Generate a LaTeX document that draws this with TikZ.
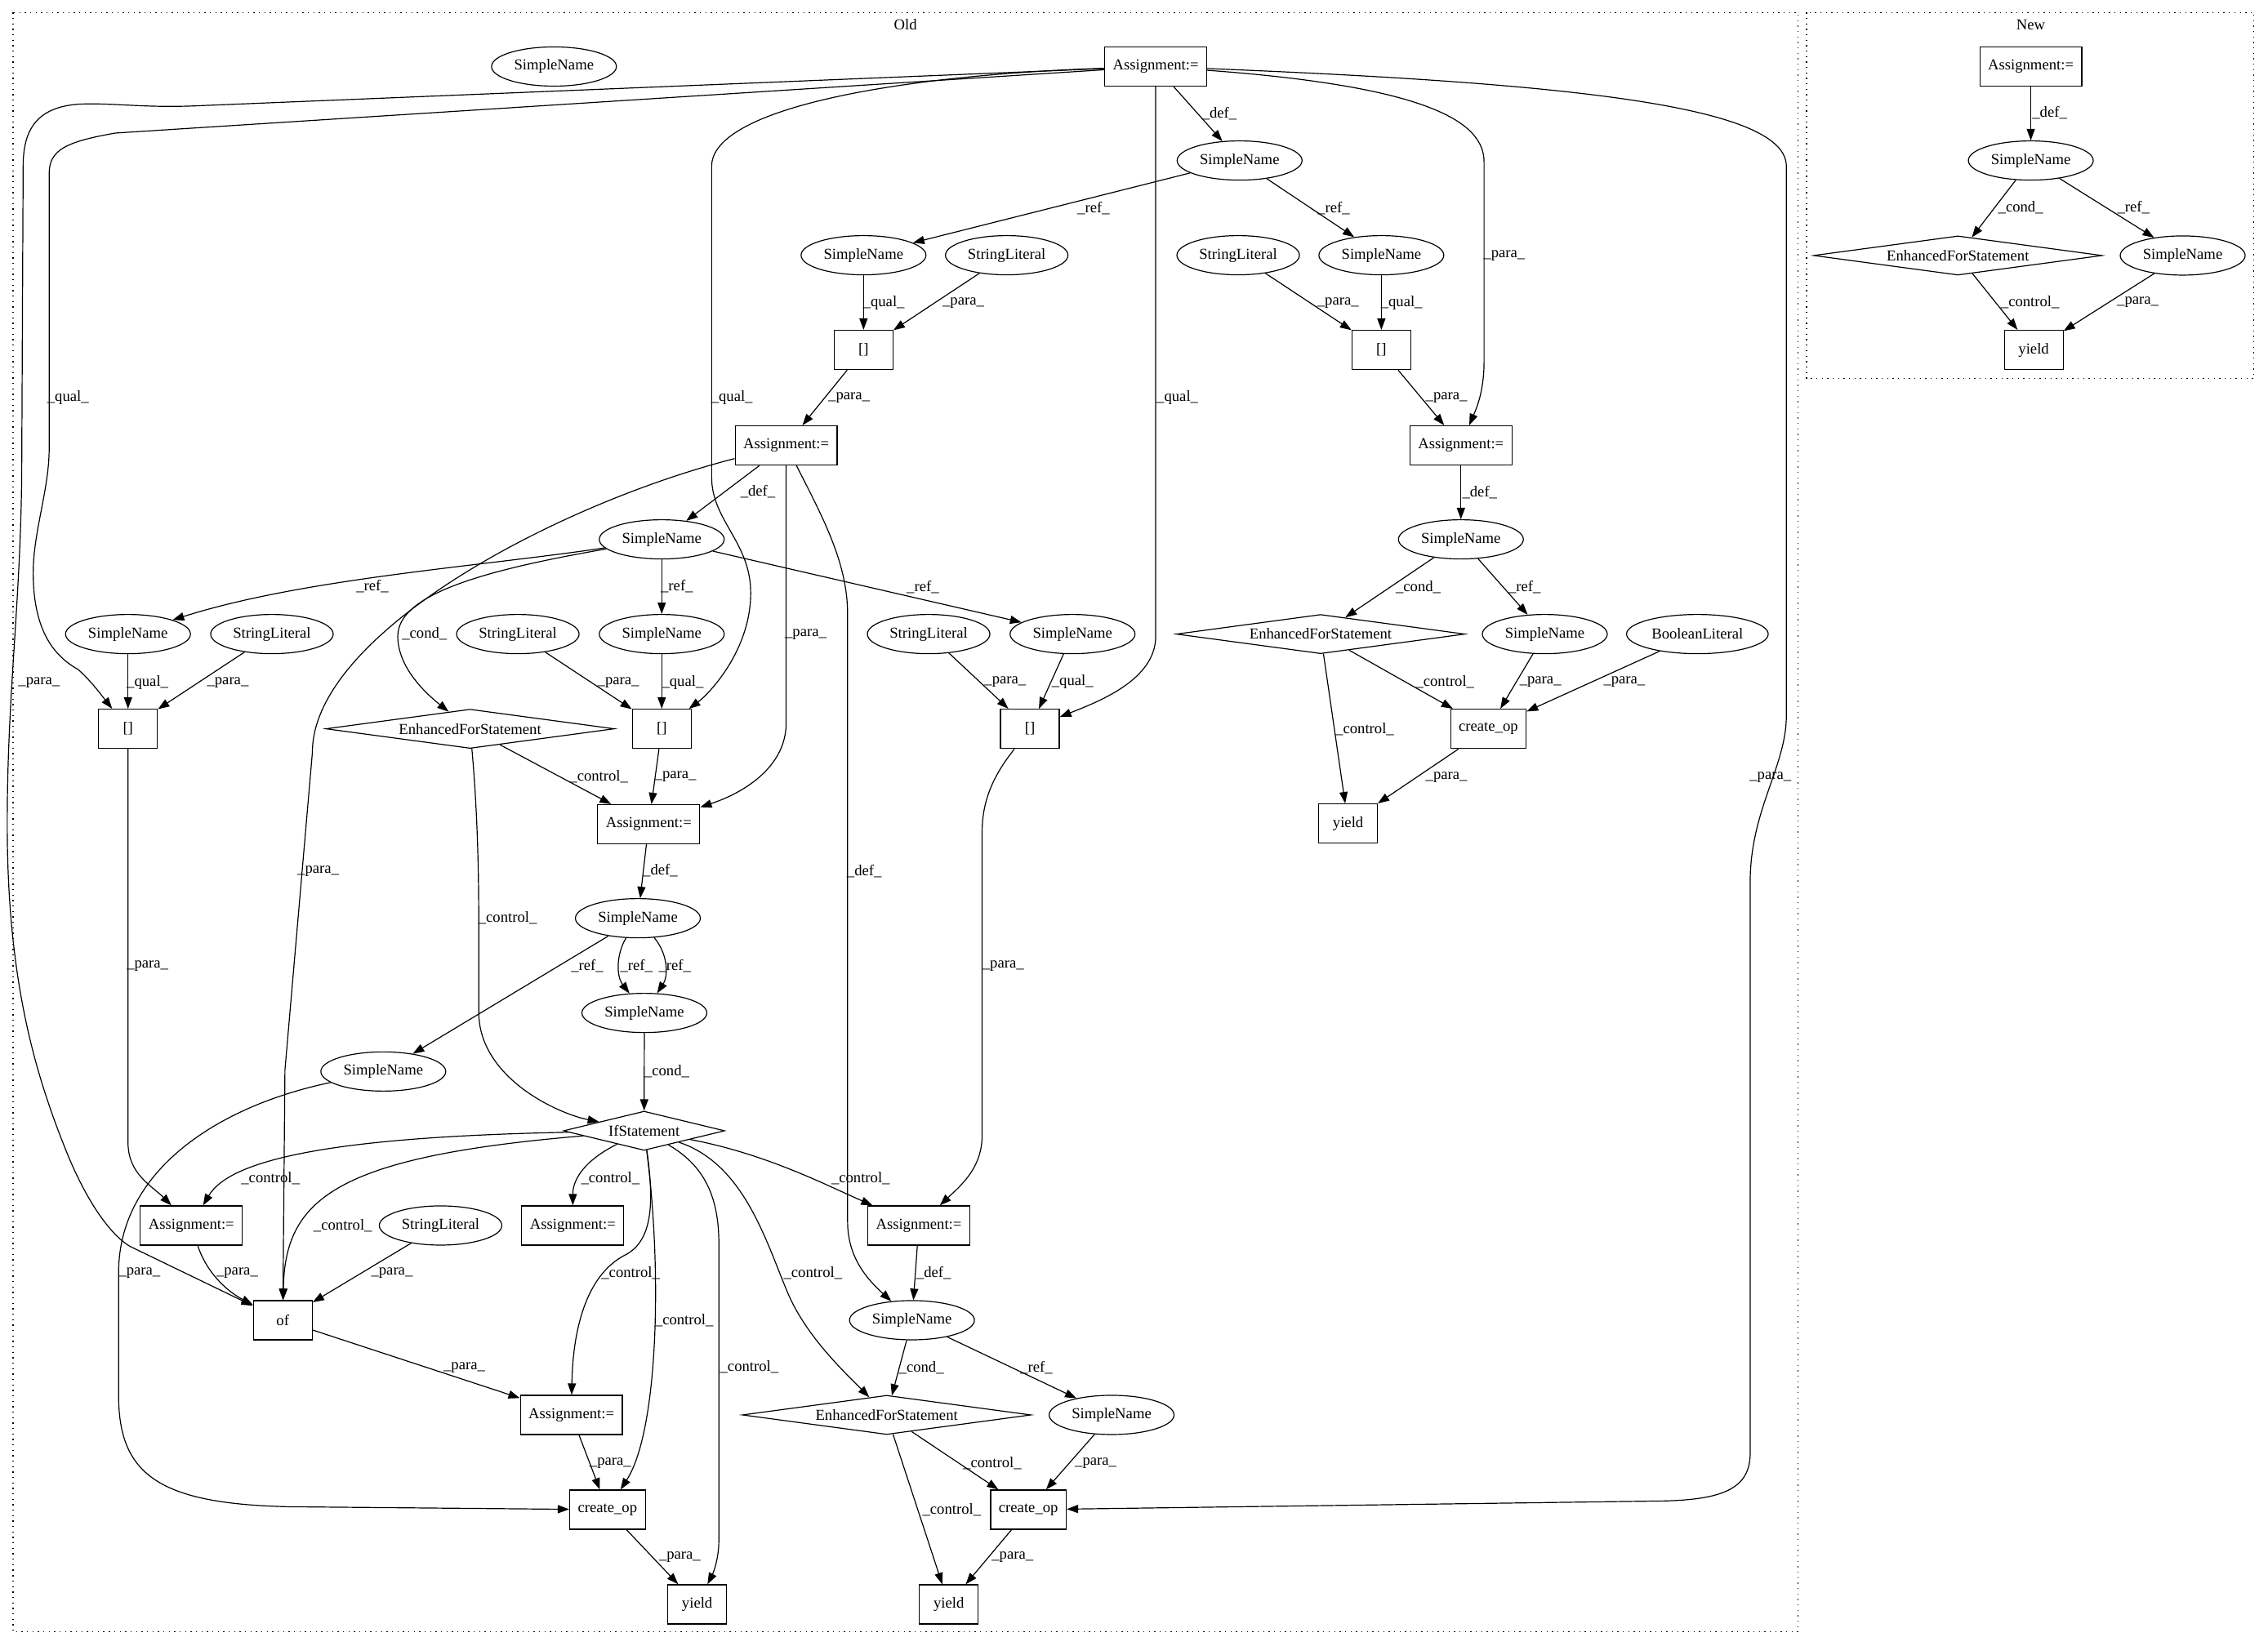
\documentclass[tikz,border=0pt]{standalone}
\usepackage{fontspec}
\setmainfont{Liberation Serif}
\usetikzlibrary{shapes.geometric,arrows.meta}
\begin{document}
\begin{tikzpicture}[x=1.328pt,y=-1.328pt,line width=0.9pt,
    every node/.style={font=\fontsize{14pt}{16pt}\selectfont},
    ell/.style={ellipse,draw,minimum height=36pt,inner xsep=4pt,inner ysep=0pt},
    box/.style={rectangle,draw,minimum height=36pt,minimum width=54pt,inner xsep=7.5pt},
    dia/.style={diamond,draw,aspect=5.6,inner sep=0pt,minimum height=36pt},
    efs/.style={dia,minimum width=265pt},
    arr/.style={-{Triangle[length=10.5pt,width=7.5pt]}},
    lbl/.style={inner sep=0pt},
    clus/.style={dash pattern=on 1pt off 4pt}]
    \useasboundingbox (0,0) rectangle (1568,1138);
    \draw[clus] (9,8.7) rectangle (1243,1128.5);
    \draw[clus] (1249,8.7) rectangle (1558.3,261.8);
    \node (oldlbl) at (626,17) {Old};
    \node (newlbl) at (1404,17) {New};

    \node[box] (a1) at (799,46) {Assignment:=};
    \node[ell] (sniso) at (383,46) {SimpleName};
    \node[ell] (sn1) at (857,111) {SimpleName};
    \node[ell] (sn2) at (597,176.5) {SimpleName};
    \node[ell] (sl1) at (696,176.5) {StringLiteral};
    \node[ell] (sl2) at (856,176.5) {StringLiteral};
    \node[ell] (sn3) at (955,176.5) {SimpleName};
    \node[box] (b1) at (597,242) {[]};
    \node[box] (b2) at (955,242) {[]};
    \node[box] (a2) at (543.5,308) {Assignment:=};
    \node[box] (a3) at (1010,308) {Assignment:=};
    \node[ell] (sn4) at (457.5,373) {SimpleName};
    \node[ell] (sn5) at (1010,373) {SimpleName};
    \node[ell] (sn6) at (88.5,438.5) {SimpleName};
    \node[ell] (sl3) at (188,438.5) {StringLiteral};
    \node[ell] (sl4) at (358,438.5) {StringLiteral};
    \node[ell] (sn7) at (457.5,438.5) {SimpleName};
    \node[ell] (sl5) at (642,438.5) {StringLiteral};
    \node[ell] (sn8) at (741.5,438.5) {SimpleName};
    \node[efs] (efs2) at (913,438.5) {EnhancedForStatement};
    \node[ell] (sn9) at (1068,438.5) {SimpleName};
    \node[ell] (bl) at (1173.5,438.5) {BooleanLiteral};
    \node[box] (b3) at (88.5,504) {[]};
    \node[efs] (efs1) at (325,504) {EnhancedForStatement};
    \node[box] (b4) at (457.5,504) {[]};
    \node[box] (b5) at (712,504) {[]};
    \node[box] (co1) at (1029,504) {create\_op};
    \node[box] (a4) at (448.5,570) {Assignment:=};
    \node[box] (y1) at (932,569.5) {yield};
    \node[ell] (sn10) at (441,635) {SimpleName};
    \node[ell] (sn11) at (445.5,700.5) {SimpleName};
    \node[ell] (sn12) at (265,741) {SimpleName};
    \node[dia,minimum width=148pt] (if1) at (445.3,782) {IfStatement};
    \node[box] (a5) at (132.3,847.5) {Assignment:=};
    \node[ell] (sl6) at (304.6,847.5) {StringLiteral};
    \node[box] (a6) at (396,847.5) {Assignment:=};
    \node[box] (a7) at (635.2,847.5) {Assignment:=};
    \node[box] (of) at (195.5,913) {of};
    \node[ell] (sn13) at (630.5,913) {SimpleName};
    \node[box] (a8) at (395,978.5) {Assignment:=};
    \node[efs] (efs3) at (613,978.5) {EnhancedForStatement};
    \node[ell] (sn14) at (768.5,978.5) {SimpleName};
    \node[box] (co2) at (420,1044) {create\_op};
    \node[box] (co3) at (711,1044) {create\_op};
    \node[box] (y2) at (482,1109.5) {yield};
    \node[box] (y3) at (656,1109.5) {yield};

    \node[box] (na1) at (1404,46) {Assignment:=};
    \node[ell] (nsn1) at (1404,111) {SimpleName};
    \node[efs] (nefs) at (1353.6,176.7) {EnhancedForStatement};
    \node[ell] (nsn2) at (1509,176.7) {SimpleName};
    \node[box] (ny) at (1406,242) {yield};

    \draw[arr] (a1) -- (sn1) node[lbl] at (843,78.5) {\_def\_};
    \draw[arr] (sn1) -- (sn2) node[lbl] at (756,144) {\_ref\_};
    \draw[arr] (sn1) -- (sn3) node[lbl] at (922,144) {\_ref\_};
    \draw[arr] (sn2) -- (b1) node[lbl] at (611,209.5) {\_qual\_};
    \draw[arr] (sl1) -- (b1) node[lbl] at (666,209.5) {\_para\_};
    \draw[arr] (sl2) -- (b2) node[lbl] at (925,209.5) {\_para\_};
    \draw[arr] (sn3) -- (b2) node[lbl] at (969,209.5) {\_qual\_};
    \draw[arr] (b1) -- (a2) node[lbl] at (587,275) {\_para\_};
    \draw[arr] (b2) -- (a3) node[lbl] at (1000,275) {\_para\_};
    \draw[arr] (a1) .. controls (990,60) and (1026,85) .. (1026,112) -- (1026,250) .. controls (1026,272) and (1020,284) .. (a3) node[lbl] at (1040,177) {\_para\_};
    \draw[arr] (a1) .. controls (1100,58) and (1235,75) .. (1235,115) -- (1235,495) .. controls (1235,530) and (1210,560) .. (1210,610) -- (1210,1005) .. controls (1210,1030) and (1190,1037) .. (1150,1038) -- (co3) node[lbl] at (1224,537.5) {\_para\_};
    \draw[arr] (a1) -- (80,92) .. controls (45,98) and (34,104) .. (34,120) -- (34,310) .. controls (34,340) and (22,370) .. (23,400) .. controls (24,440) and (40,455) .. (54,463) .. controls (62,470) and (68,478) .. (b3) node[lbl] at (47,275) {\_qual\_};
    \draw[arr] (a1) -- (140,73) .. controls (100,75) and (80,71) .. (55,72) .. controls (25,74) and (16,90) .. (16,115) -- (15,330) .. controls (14,420) and (5,480) .. (5,570) .. controls (5,680) and (25,745) .. (47,799) .. controls (62,835) and (78,855) .. (90,862) -- (of) node[lbl] at (27,472) {\_para\_};
    \draw[arr] (a1) .. controls (620,52) and (492,75) .. (492,115) -- (492,330) .. controls (492,360) and (519,375) .. (519,410) .. controls (519,450) and (490,480) .. (b4) node[lbl] at (506,275) {\_qual\_};
    \draw[arr] (a1) -- (799,440) .. controls (799,470) and (760,485) .. (b5) node[lbl] at (814,275) {\_qual\_};

    \draw[arr] (a2) -- (sn4) node[lbl] at (524,340) {\_def\_};
    \draw[arr] (a2) -- (543.5,500) .. controls (543.5,530) and (515,548) .. (a4) node[lbl] at (557,439) {\_para\_};
    \draw[arr] (a2) .. controls (570,360) and (586,390) .. (586,425) -- (586,845) .. controls (586,870) and (600,885) .. (sn13) node[lbl] at (597.5,602.5) {\_def\_};
    \draw[arr] (a2) .. controls (380,350) and (216,440) .. (216,520) -- (197,740) -- (of) node[lbl] at (220,602.5) {\_para\_};
    \draw[arr] (sn4) .. controls (330,392) and (210,400) .. (sn6) node[lbl] at (257.5,405.5) {\_ref\_};
    \draw[arr] (sn4) -- (sn7) node[lbl] at (468,405.5) {\_ref\_};
    \draw[arr] (sn4) -- (sn8) node[lbl] at (638,406) {\_ref\_};
    \draw[arr] (sn4) .. controls (330,395) and (275,412) .. (275,440) .. controls (275,462) and (295,480) .. (efs1) node[lbl] at (293.5,438.5) {\_cond\_};
    \draw[arr] (sn6) -- (b3) node[lbl] at (102,472) {\_qual\_};
    \draw[arr] (sl3) -- (b3) node[lbl] at (157.5,472) {\_para\_};
    \draw[arr] (sl4) -- (b4) node[lbl] at (427.5,472) {\_para\_};
    \draw[arr] (sn7) -- (b4) node[lbl] at (472,472) {\_qual\_};
    \draw[arr] (sl5) -- (b5) node[lbl] at (695,471.5) {\_para\_};
    \draw[arr] (sn8) -- (b5) node[lbl] at (741.5,471.5) {\_qual\_};
    \draw[arr] (b4) -- (a4) node[lbl] at (467,537) {\_para\_};
    \draw[arr] (efs1) -- (a4) node[lbl] at (414,537) {\_control\_};
    \draw[arr] (efs1) .. controls (330,560) and (331,600) .. (331,640) -- (331,700) .. controls (331,745) and (385,770) .. (if1) node[lbl] at (351,635) {\_control\_};
    \draw[arr] (a4) -- (sn10) node[lbl] at (456.5,602) {\_def\_};
    \draw[arr] (sn10) .. controls (426,660) and (426,675) .. (sn11) node[lbl] at (440,668) {\_ref\_};
    \draw[arr] (sn10) .. controls (462,660) and (462,675) .. (sn11) node[lbl] at (466.5,668) {\_ref\_};
    \draw[arr] (sn10) -- (sn12) node[lbl] at (406,668) {\_ref\_};
    \draw[arr] (sn11) -- (if1) node[lbl] at (461,741) {\_cond\_};
    \draw[arr] (sn12) .. controls (150,765) and (82,810) .. (82,880) -- (82,965) .. controls (82,1020) and (110,1040) .. (200,1042) -- (co2) node[lbl] at (96.5,880.5) {\_para\_};
    \draw[arr] (b3) -- (88.5,790) .. controls (88.5,812) and (105,820) .. (a5) node[lbl] at (102,668) {\_para\_};

    \draw[arr] (if1) .. controls (240,786) and (160,800) .. (a5) node[lbl] at (187,815) {\_control\_};
    \draw[arr] (if1) .. controls (230,800) and (197,830) .. (of) node[lbl] at (237,847.5) {\_control\_};
    \draw[arr] (if1) .. controls (405,802) and (396,815) .. (a6) node[lbl] at (422,815) {\_control\_};
    \draw[arr] (if1) .. controls (452,830) and (452,858) .. (432,868) .. controls (405,882) and (396,920) .. (a8) node[lbl] at (436,880.5) {\_control\_};
    \draw[arr] (if1) .. controls (458,880) and (455,990) .. (co2) node[lbl] at (473,913) {\_control\_};
    \draw[arr] (if1) .. controls (485,805) and (497,825) .. (497,860) -- (497,1065) .. controls (497,1080) and (492,1090) .. (y2) node[lbl] at (518,945.5) {\_control\_};
    \draw[arr] (if1) .. controls (515,805) and (530,860) .. (545,895) .. controls (558,925) and (585,950) .. (efs3) node[lbl] at (562,880.5) {\_control\_};
    \draw[arr] (if1) .. controls (530,798) and (572,820) .. (a7) node[lbl] at (595,815) {\_control\_};
    \draw[arr] (a5) .. controls (142,878) and (155,892) .. (of) node[lbl] at (164,880.5) {\_para\_};
    \draw[arr] (sl6) -- (of) node[lbl] at (271,880.5) {\_para\_};
    \draw[arr] (of) -- (a8) node[lbl] at (321,946) {\_para\_};
    \draw[arr] (a8) -- (co2) node[lbl] at (422,1012) {\_para\_};
    \draw[arr] (co2) -- (y2) node[lbl] at (470,1077) {\_para\_};
    \draw[arr] (b5) .. controls (692,530) and (679,548) .. (679,575) -- (679,785) .. controls (679,808) and (664,820) .. (a7) node[lbl] at (693.5,668) {\_para\_};
    \draw[arr] (a7) -- (sn13) node[lbl] at (645.5,880.5) {\_def\_};
    \draw[arr] (sn13) -- (efs3) node[lbl] at (637,946) {\_cond\_};
    \draw[arr] (sn13) -- (sn14) node[lbl] at (716.5,946) {\_ref\_};
    \draw[arr] (sn14) -- (co3) node[lbl] at (757.5,1012) {\_para\_};
    \draw[arr] (efs3) -- (co3) node[lbl] at (686,1012) {\_control\_};
    \draw[arr] (efs3) -- (y3) node[lbl] at (658,1044) {\_control\_};
    \draw[arr] (co3) -- (y3) node[lbl] at (700,1077) {\_para\_};

    \draw[arr] (a3) -- (sn5) node[lbl] at (1023,340.5) {\_def\_};
    \draw[arr] (sn5) -- (efs2) node[lbl] at (980.5,406) {\_cond\_};
    \draw[arr] (sn5) -- (sn9) node[lbl] at (1054,406) {\_ref\_};
    \draw[arr] (sn9) -- (co1) node[lbl] at (1065,471.5) {\_para\_};
    \draw[arr] (bl) -- (co1) node[lbl] at (1123,471.5) {\_para\_};
    \draw[arr] (efs2) -- (co1) node[lbl] at (999,471.5) {\_control\_};
    \draw[arr] (efs2) -- (y1) node[lbl] at (943.5,504.5) {\_control\_};
    \draw[arr] (co1) -- (y1) node[lbl] at (1000,537.5) {\_para\_};

    \draw[arr] (na1) -- (nsn1) node[lbl] at (1417,78) {\_def\_};
    \draw[arr] (nsn1) -- (nefs) node[lbl] at (1397,143.5) {\_cond\_};
    \draw[arr] (nsn1) -- (nsn2) node[lbl] at (1475,143.5) {\_ref\_};
    \draw[arr] (nefs) -- (ny) node[lbl] at (1403.5,209) {\_control\_};
    \draw[arr] (nsn2) -- (ny) node[lbl] at (1478,209) {\_para\_};
\end{tikzpicture}
\end{document}
